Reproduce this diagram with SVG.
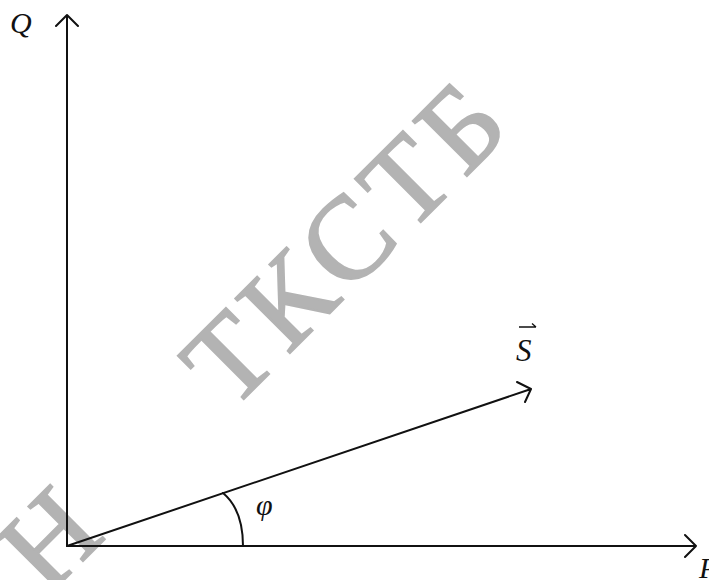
<svg xmlns="http://www.w3.org/2000/svg" width="709" height="580" viewBox="0 0 709 580">
<style>
.ln{stroke:#111;stroke-width:2;fill:none;stroke-linecap:round;stroke-linejoin:round}
.lbl{font-family:"Liberation Serif","DejaVu Serif",serif;font-style:italic;fill:#111}
.wm{font-family:"Liberation Serif","DejaVu Serif",serif;fill:#b3b3b3;stroke:#b3b3b3;stroke-width:2}
</style>
<rect width="709" height="580" fill="#fff"/>
<g id="watermark">
<text class="wm" font-size="118" transform="translate(231,412) rotate(-45)" textLength="398" lengthAdjust="spacing">ТКСТБ</text>
<text class="wm" font-size="118" transform="translate(47,597) rotate(-45)">Н</text>
</g>
<g id="connectors">
<path class="ln" d="M67,546 V15 M56,26 L67,15 L78,26"/>
<path class="ln" d="M67,546 H696 M685,535 L696,546 L685,557"/>
<path class="ln" d="M67,546 L531,389 M517,382 L531,389 L525,402"/>
<path class="ln" d="M223,493 C235,503 243,520 243,546"/>
</g>
<g id="axis-Q"><text class="lbl" x="10" y="33" font-size="30">Q</text></g>
<g id="axis-P"><text class="lbl" x="699" y="578" font-size="30">P</text></g>
<g id="vector-S">
<text class="lbl" x="516" y="361" font-size="31">S</text>
<path d="M519,327 H536 M532,323.5 L536,327" stroke="#111" stroke-width="1.3" fill="none"/>
</g>
<g id="angle-phi"><text class="lbl" x="256" y="515" font-size="30">φ</text></g>
</svg>
